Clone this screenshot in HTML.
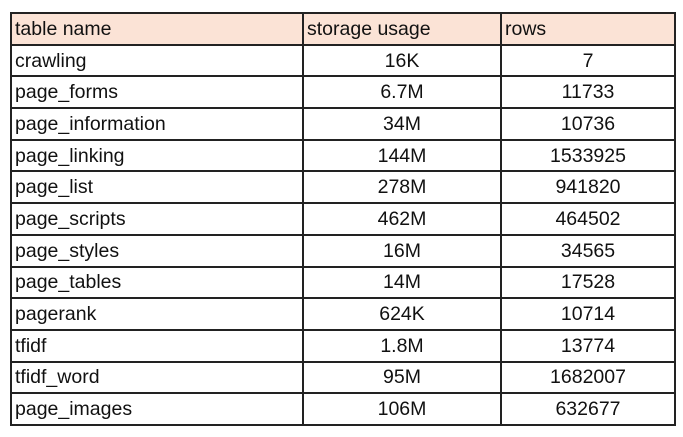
<!DOCTYPE html>
<html><head><meta charset="utf-8"><style>
body{margin:0;width:683px;height:437px;background:#fff;overflow:hidden;font-family:"Liberation Sans",sans-serif}
table{position:absolute;left:10px;top:12px;border-collapse:collapse;table-layout:fixed}
td{border:2px solid #222;height:29.7px;padding:0 3px;font-size:19.5px;color:#111;white-space:nowrap;overflow:hidden;line-height:26px}
tr.h td{background:#fbe3d6}
td.c{text-align:center}
</style></head><body>
<table>
<colgroup><col style="width:292px"><col style="width:198px"><col style="width:174px"></colgroup>
<tr class="h"><td>table name</td><td>storage usage</td><td>rows</td></tr>
<tr><td>crawling</td><td class="c">16K</td><td class="c">7</td></tr>
<tr><td>page_forms</td><td class="c">6.7M</td><td class="c">11733</td></tr>
<tr><td>page_information</td><td class="c">34M</td><td class="c">10736</td></tr>
<tr><td>page_linking</td><td class="c">144M</td><td class="c">1533925</td></tr>
<tr><td>page_list</td><td class="c">278M</td><td class="c">941820</td></tr>
<tr><td>page_scripts</td><td class="c">462M</td><td class="c">464502</td></tr>
<tr><td>page_styles</td><td class="c">16M</td><td class="c">34565</td></tr>
<tr><td>page_tables</td><td class="c">14M</td><td class="c">17528</td></tr>
<tr><td>pagerank</td><td class="c">624K</td><td class="c">10714</td></tr>
<tr><td>tfidf</td><td class="c">1.8M</td><td class="c">13774</td></tr>
<tr><td>tfidf_word</td><td class="c">95M</td><td class="c">1682007</td></tr>
<tr><td>page_images</td><td class="c">106M</td><td class="c">632677</td></tr>
</table>
</body></html>
